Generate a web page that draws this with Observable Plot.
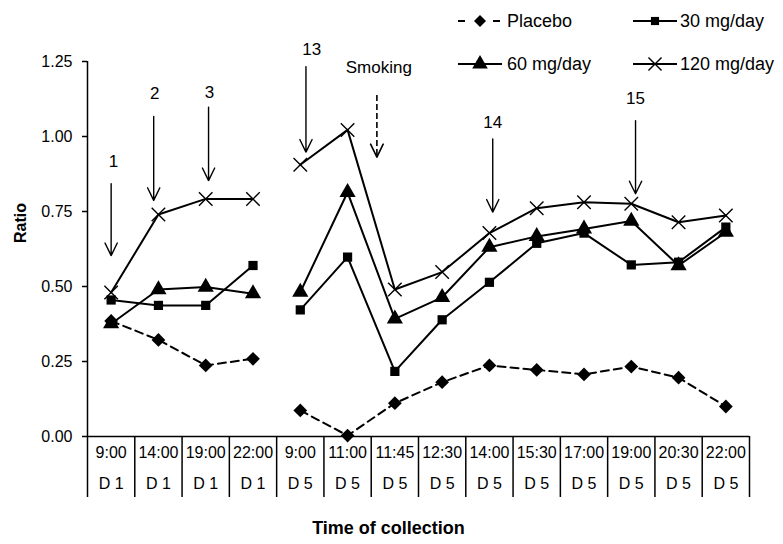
<!DOCTYPE html>
<html><head><meta charset="utf-8">
<script src="https://cdn.jsdelivr.net/npm/d3@7"></script>
<script src="https://cdn.jsdelivr.net/npm/@observablehq/plot@0.6"></script>
<style>html,body{margin:0;padding:0;background:#fff;} svg{display:block;}</style>
</head><body><div id="chart"></div>
<script>
// ---- data ----
const times = ["9:00","14:00","19:00","22:00","9:00","11:00","11:45","12:30","14:00","15:30","17:00","19:00","20:30","22:00"];
const days  = ["D 1","D 1","D 1","D 1","D 5","D 5","D 5","D 5","D 5","D 5","D 5","D 5","D 5","D 5"];
const placebo = [0.385, 0.322, 0.237, 0.259, 0.087, 0.003, 0.111, 0.181, 0.237, 0.222, 0.207, 0.233, 0.196, 0.100];
const mg30    = [0.455, 0.437, 0.437, 0.570, 0.422, 0.598, 0.217, 0.389, 0.514, 0.644, 0.678, 0.572, 0.581, 0.698];
const mg60    = [0.376, 0.490, 0.498, 0.476, 0.481, 0.814, 0.392, 0.464, 0.631, 0.667, 0.692, 0.718, 0.570, 0.681];
const mg120   = [0.480, 0.740, 0.792, 0.792, 0.906, 1.022, 0.490, 0.548, 0.678, 0.761, 0.781, 0.776, 0.714, 0.737];
const seriesNames   = ["Placebo", "30 mg/day", "60 mg/day", "120 mg/day"];
const seriesValues  = [placebo, mg30, mg60, mg120];
const seriesSymbols = ["diamond2", "square", "triangle", "times"];
const seriesDash    = ["8,5", null, null, null];
const yTicks = [0, 0.25, 0.5, 0.75, 1.0, 1.25];

// annotations (arrows)
const annLabels  = ["1", "2", "3", "13", "Smoking", "14", "15"];
const annX       = [0, 0.9, 2.06, 4.12, 5.62, 8.07, 11.09];
const annLabelX  = [0.05, 0.92, 2.08, 4.24, 5.66, 8.07, 11.09];
const annTop     = [0.843, 1.067, 1.098, 1.233, 1.137, 0.992, 1.053];
const annTip     = [0.603, 0.787, 0.853, 0.948, 0.931, 0.748, 0.809];
const annLabelY  = [0.918, 1.142, 1.148, 1.289, 1.230, 1.048, 1.126];
const annDashed  = [false, false, false, false, true, false, false];

// ---- build ----
const rows = [];
seriesValues.forEach((vals, s) => vals.forEach((v, i) => rows.push({s, i, value: v, seg: days[i]})));
const ann = annLabels.map((label, k) => ({label, x: annX[k], lx: annLabelX[k], top: annTop[k], tip: annTip[k], ly: annLabelY[k], dashed: annDashed[k]}));

const FONT = "'Liberation Sans', Arial, sans-serif";
const marks = [];
// x axis line and category dividers (table)
marks.push(Plot.ruleY([0], {x1: -0.5, x2: times.length - 0.5, stroke: "black", strokeWidth: 1.5}));
marks.push(Plot.ruleX(d3.range(times.length + 1), {x: d => d - 0.5, y1: 0, y2: -0.2033, stroke: "black", strokeWidth: 1.5}));
marks.push(Plot.text(times, {x: (d, i) => i, text: d => d, frameAnchor: "bottom", dy: 21, fontSize: 16}));
marks.push(Plot.text(days, {x: (d, i) => i, text: d => d, frameAnchor: "bottom", dy: 52, fontSize: 16}));
// y axis
marks.push(Plot.ruleX([-0.5], {y1: 0, y2: 1.25, stroke: "black", strokeWidth: 1.5}));
marks.push(Plot.axisY({ticks: yTicks, tickFormat: d3.format(".2f"), tickSize: 5, tickPadding: 10, label: null, fontSize: 16, strokeWidth: 1.5}));
marks.push(Plot.text(["Ratio"], {frameAnchor: "left", dx: -67, dy: -6, rotate: -90, fontWeight: "bold", fontSize: 16}));
marks.push(Plot.text(["Time of collection"], {frameAnchor: "bottom", dx: -30, dy: 97, fontWeight: "bold", fontSize: 18}));

// series
seriesNames.forEach((name, s) => {
  const data = rows.filter(r => r.s === s);
  const opts = {x: "i", y: "value", z: "seg", stroke: "black", strokeWidth: 2};
  if (seriesDash[s]) opts.strokeDasharray = seriesDash[s];
  marks.push(Plot.line(data, opts));
});
const symR = {diamond2: 6.2, square: 5.2, triangle: 6.0, times: 6.2};
seriesNames.forEach((name, s) => {
  const data = rows.filter(r => r.s === s);
  const sym = seriesSymbols[s];
  if (sym === "times") {
    marks.push(Plot.dot(data, {x: "i", y: "value", symbol: sym, r: symR[sym], stroke: "black", strokeWidth: 1.4}));
  } else {
    marks.push(Plot.dot(data, {x: "i", y: "value", symbol: sym, r: symR[sym], fill: "black", stroke: "none"}));
  }
});

// annotations
const solid = ann.filter(a => !a.dashed);
const dashed = ann.filter(a => a.dashed);
marks.push(Plot.arrow(solid, {x: "x", y1: "top", y2: "tip", stroke: "black", strokeWidth: 1.4, headLength: 15, headAngle: 52}));
marks.push(Plot.ruleX(dashed, {x: "x", y1: "top", y2: "tip", stroke: "black", strokeWidth: 1.6, strokeDasharray: "6,3"}));
let headMark;
try {
  const headShape = {draw(ctx) { ctx.moveTo(-6.3, -13); ctx.lineTo(0, 0); ctx.lineTo(6.3, -13); }};
  headMark = Plot.vector(dashed, {x: "x", y: "tip", length: 13, shape: headShape, anchor: "start", stroke: "black", strokeWidth: 1.6});
} catch (e) {
  headMark = Plot.arrow(dashed, {x: "x", y1: "top", y2: "tip", stroke: "black", strokeWidth: 1.6, headLength: 15, headAngle: 52});
}
marks.push(headMark);
marks.push(Plot.text(ann, {x: "lx", y: "ly", text: "label", fontSize: 17}));

const plot = Plot.plot({
  width: 783, height: 544,
  marginLeft: 87, marginRight: 34, marginTop: 61, marginBottom: 108,
  x: {domain: [-0.5, times.length - 0.5], axis: null},
  y: {domain: [0, 1.25]},
  style: {fontFamily: FONT, fontSize: "16px", color: "black", background: "white", overflow: "visible"},
  marks
});
document.getElementById("chart").appendChild(plot);

// ---- legend ----
const svg = d3.select(plot);
const legCols = [458, 633], legRows = [21, 64];
const symMap = {diamond2: d3.symbolDiamond2, square: d3.symbolSquare, triangle: d3.symbolTriangle, times: d3.symbolTimes};
const g = svg.append("g").attr("font-family", FONT).attr("font-size", 18).attr("text-anchor", "start");
seriesNames.forEach((name, s) => {
  const x0 = legCols[s % 2], y0 = legRows[Math.floor(s / 2)];
  const line = g.append("line").attr("x1", x0).attr("x2", x0 + (seriesDash[s] ? 42 : 44)).attr("y1", y0).attr("y2", y0)
    .attr("stroke", "black").attr("stroke-width", 2);
  if (seriesDash[s]) line.attr("stroke-dasharray", "7,28");
  const sym = seriesSymbols[s];
  const r = sym === "times" ? 6 : sym === "triangle" ? 5.8 : sym === "square" ? 4.6 : 5.4;
  const p = g.append("path").attr("transform", `translate(${x0 + 22},${y0})`)
    .attr("d", d3.symbol(symMap[sym], r * r * Math.PI)());
  if (sym === "times") p.attr("fill", "none").attr("stroke", "black").attr("stroke-width", 1.4);
  else p.attr("fill", "black");
  g.append("text").attr("x", x0 + (s % 2 ? 47 : 49)).attr("y", y0).attr("dy", "0.35em")
    .attr("fill", "black").attr("text-anchor", "start").text(name);
});
</script>
</body></html>
